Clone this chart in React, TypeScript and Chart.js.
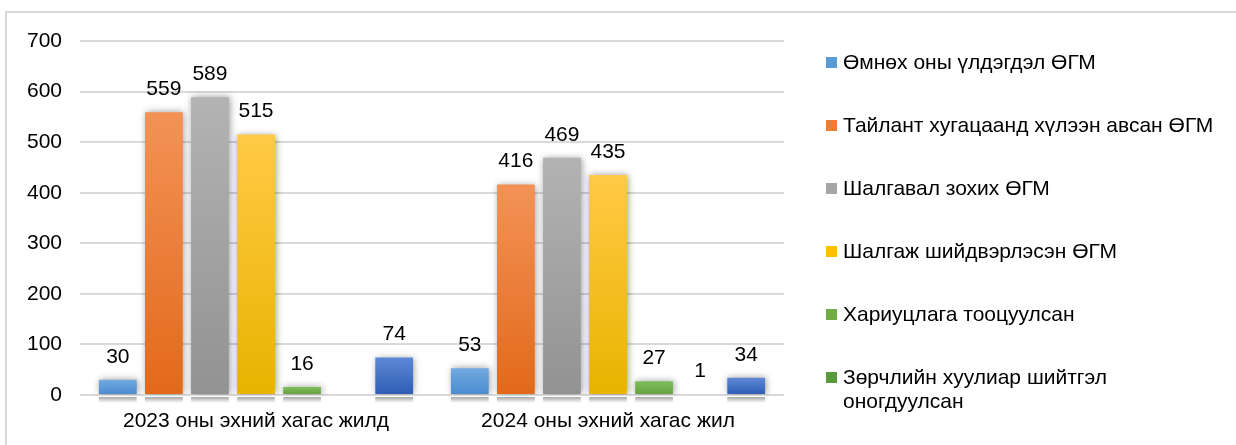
import React, { useEffect, useRef } from "react";
import { Chart, registerables } from "chart.js";

Chart.register(...registerables);

const categories = ["2023 оны эхний хагас жилд", "2024 оны эхний хагас жил"];

const seriesLabels = [
  "Өмнөх оны үлдэгдэл ӨГМ",
  "Тайлант хугацаанд хүлээн авсан ӨГМ",
  "Шалгавал зохих ӨГМ",
  "Шалгаж шийдвэрлэсэн ӨГМ",
  "Хариуцлага тооцуулсан",
  "Зөрчлийн хуулиар шийтгэл\nоногдуулсан",
  "Бусад",
];

const prevBalance = [30, 53];
const received = [559, 416];
const toReview = [589, 469];
const resolved = [515, 435];
const accountable = [16, 27];
const penalized: (number | null)[] = [null, 1];
const other = [74, 34];

const yTicks = [0, 100, 200, 300, 400, 500, 600, 700];

const seriesValues = [prevBalance, received, toReview, resolved, accountable, penalized, other];

const gradients: [string, string, string][] = [
  ["#72AAE0", "#4A8AD0", "#5B9BD5"],
  ["#F39257", "#E3691A", "#ED7D31"],
  ["#B3B3B3", "#929292", "#A5A5A5"],
  ["#FFCA45", "#E9B300", "#FFC000"],
  ["#80BD5C", "#62A03B", "#70AD47"],
  ["#67A446", "#4B8730", "#5A9A3C"],
  ["#5E88D4", "#2E5CB6", "#4472C4"],
];

const FONT = "'Liberation Sans', Arial, sans-serif";
const FS = 21;

const extrasPlugin = {
  id: "extras",
  beforeDraw(chart: any) {
    const ctx = chart.ctx;
    ctx.save();
    ctx.strokeStyle = "#d9d9d9";
    ctx.lineWidth = 2;
    ctx.beginPath();
    ctx.moveTo(6, 460);
    ctx.lineTo(6, 12);
    ctx.lineTo(1300, 12);
    ctx.stroke();
    ctx.restore();
  },
  beforeDatasetsDraw(chart: any) {
    const ctx = chart.ctx;
    const bottom = chart.chartArea.bottom;
    chart.data.datasets.forEach((ds: any, i: number) => {
      const meta = chart.getDatasetMeta(i);
      meta.data.forEach((el: any, j: number) => {
        const v = ds.data[j];
        if (v === null || v === undefined) return;
        const h = Math.min(6, Math.max(0, el.base - el.y));
        if (h <= 1) return;
        const w = el.width;
        const g = ctx.createLinearGradient(0, bottom + 2, 0, bottom + 2 + h);
        g.addColorStop(0, "rgba(60,60,60,0.45)");
        g.addColorStop(1, "rgba(60,60,60,0)");
        ctx.save();
        ctx.fillStyle = g;
        ctx.fillRect(el.x - w / 2, bottom + 2, w, h);
        ctx.restore();
      });
    });
    ctx.save();
    ctx.shadowColor = "rgba(0,0,0,0.4)";
    ctx.shadowBlur = 7;
    ctx.shadowOffsetX = 1;
    ctx.shadowOffsetY = 0;
  },
  afterDatasetsDraw(chart: any) {
    const ctx = chart.ctx;
    ctx.restore();
    ctx.save();
    ctx.font = `${FS}px ${FONT}`;
    ctx.fillStyle = "#000";
    ctx.textAlign = "center";
    ctx.textBaseline = "middle";
    chart.data.datasets.forEach((ds: any, i: number) => {
      const meta = chart.getDatasetMeta(i);
      meta.data.forEach((el: any, j: number) => {
        const v = ds.data[j];
        if (v === null || v === undefined) return;
        ctx.fillText(String(v), el.x, el.y - 23);
      });
    });
    ctx.restore();
  },
  afterDraw(chart: any) {
    const ctx = chart.ctx;
    ctx.save();
    ctx.font = `${FS}px ${FONT}`;
    ctx.textAlign = "left";
    ctx.textBaseline = "middle";
    let y = 62;
    chart.data.datasets.forEach((ds: any, i: number) => {
      const lines = String(ds.label).split("\n");
      ctx.fillStyle = gradients[i][2];
      ctx.fillRect(826, y - 5, 11, 11);
      ctx.fillStyle = "#000";
      lines.forEach((ln: string, k: number) => {
        ctx.fillText(ln, 843, y + 1 + k * 24);
      });
      y += (lines.length - 1) * 24 + 63;
    });
    ctx.restore();
  },
};

export default function App() {
  const ref = useRef<HTMLCanvasElement | null>(null);
  useEffect(() => {
    if (!ref.current) return;
    const datasets = seriesValues.map((vals, i) => ({
      label: seriesLabels[i],
      data: vals,
      backgroundColor: (c: any) => {
        const chart = c.chart;
        const area = chart.chartArea;
        if (!area || c.type !== "data") return gradients[i][2];
        const yScale = chart.scales.y;
        const v = c.raw;
        if (v === null || v === undefined) return gradients[i][2];
        const top = yScale.getPixelForValue(v);
        const bot = yScale.getPixelForValue(0);
        if (bot - top < 1) return "rgba(0,0,0,0)";
        const g = chart.ctx.createLinearGradient(0, top, 0, bot);
        g.addColorStop(0, gradients[i][0]);
        g.addColorStop(1, gradients[i][1]);
        return g;
      },
      borderWidth: 0,
      categoryPercentage: 0.916,
      barPercentage: 0.82,
    }));
    const chart = new Chart(ref.current, {
      type: "bar",
      data: { labels: categories, datasets },
      options: {
        responsive: false,
        animation: false,
        devicePixelRatio: 1,
        layout: { padding: { left: 0, right: 452, top: 41, bottom: 0 } },
        plugins: {
          legend: { display: false },
          tooltip: { enabled: false },
          title: { display: false },
        },
        scales: {
          x: {
            grid: { display: false },
            border: { display: false },
            ticks: {
              color: "#000",
              font: { family: FONT, size: FS },
              padding: 6,
              maxRotation: 0,
            },
            afterFit: (s: any) => {
              s.height = 50;
            },
          },
          y: {
            min: 0,
            max: 700,
            afterBuildTicks: (s: any) => {
              s.ticks = yTicks.map((v) => ({ value: v }));
            },
            grid: { color: "#d9d9d9", lineWidth: 2, drawTicks: false },
            border: { display: false },
            ticks: {
              color: "#000",
              font: { family: FONT, size: FS },
              padding: 18,
            },
            afterFit: (s: any) => {
              s.width = 80;
            },
          },
        },
      },
      plugins: [extrasPlugin],
    });
    return () => chart.destroy();
  }, []);

  return (
    <div
      style={{
        position: "fixed",
        left: 0,
        top: 0,
        width: 1236,
        height: 445,
        overflow: "hidden",
        background: "#fff",
      }}
    >
      <canvas
        ref={ref}
        width={1236}
        height={445}
        style={{ position: "absolute", left: 0, top: 0, width: 1236, height: 445 }}
      />
    </div>
  );
}
